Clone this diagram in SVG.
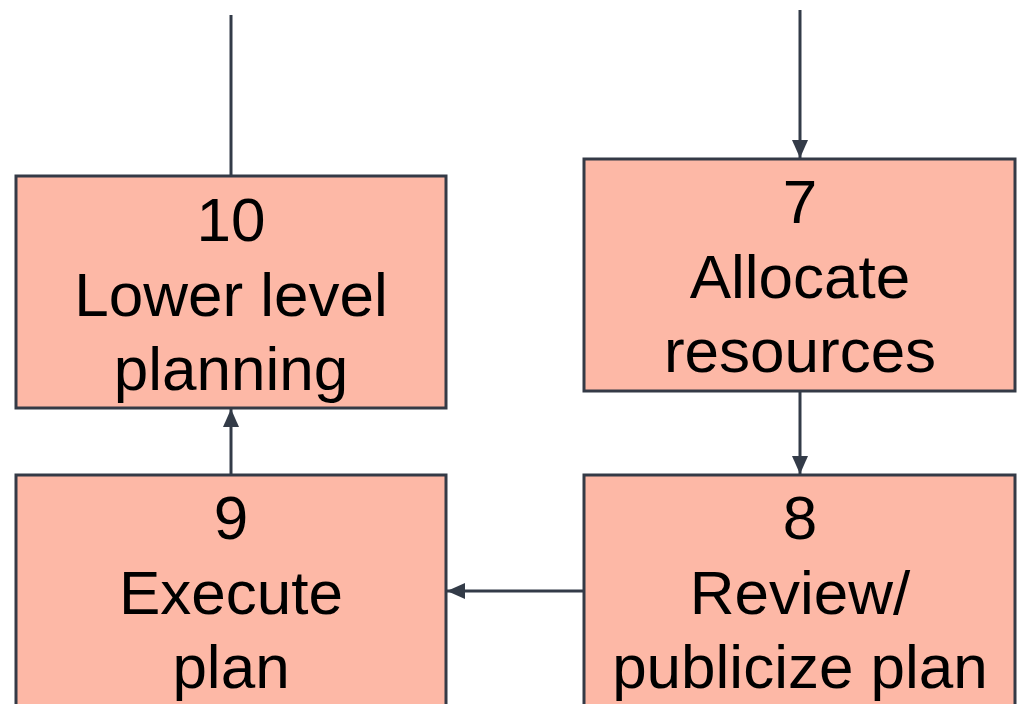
<svg xmlns="http://www.w3.org/2000/svg" width="1019" height="704" viewBox="0 0 1019 704">
  <style>
    .box { fill: #FDB8A6; stroke: #343A46; stroke-width: 3; }
    .label { font-family: "Liberation Sans", Arial, sans-serif; font-size: 62px; fill: #000; text-anchor: middle; }
    .edge { stroke: #333B48; stroke-width: 3; fill: none; }
  </style>
  <defs>
    <marker id="arrow" viewBox="0 0 18 16" refX="18" refY="8" markerWidth="18" markerHeight="16" markerUnits="userSpaceOnUse" orient="auto">
      <path d="M0,0 L18,8 L0,16 Z" fill="#333B48"/>
    </marker>
  </defs>

  <rect width="1019" height="704" fill="#fff"/>

  <g id="node-10">
    <rect class="box" x="16" y="176" width="430" height="232"/>
    <text class="label" x="231" y="241">10</text>
    <text class="label" x="231" y="316">Lower level</text>
    <text class="label" x="231" y="390">planning</text>
  </g>

  <g id="node-7">
    <rect class="box" x="584" y="159" width="431" height="232"/>
    <text class="label" x="800" y="223">7</text>
    <text class="label" x="800" y="298">Allocate</text>
    <text class="label" x="800" y="372">resources</text>
  </g>

  <g id="node-9">
    <rect class="box" x="16" y="475" width="430" height="240"/>
    <text class="label" x="231" y="539">9</text>
    <text class="label" x="231" y="614">Execute</text>
    <text class="label" x="231" y="688">plan</text>
  </g>

  <g id="node-8">
    <rect class="box" x="584" y="475" width="431" height="240"/>
    <text class="label" x="800" y="539">8</text>
    <text class="label" x="800" y="614">Review/</text>
    <text class="label" x="800" y="688">publicize plan</text>
  </g>

  <g id="connectors">
    <line class="edge" x1="231" y1="15" x2="231" y2="176"/>
    <line class="edge" x1="800" y1="10" x2="800" y2="158" marker-end="url(#arrow)"/>
    <line class="edge" x1="800" y1="391" x2="800" y2="474" marker-end="url(#arrow)"/>
    <line class="edge" x1="584" y1="591" x2="447" y2="591" marker-end="url(#arrow)"/>
    <line class="edge" x1="231" y1="475" x2="231" y2="409" marker-end="url(#arrow)"/>
  </g>
</svg>
